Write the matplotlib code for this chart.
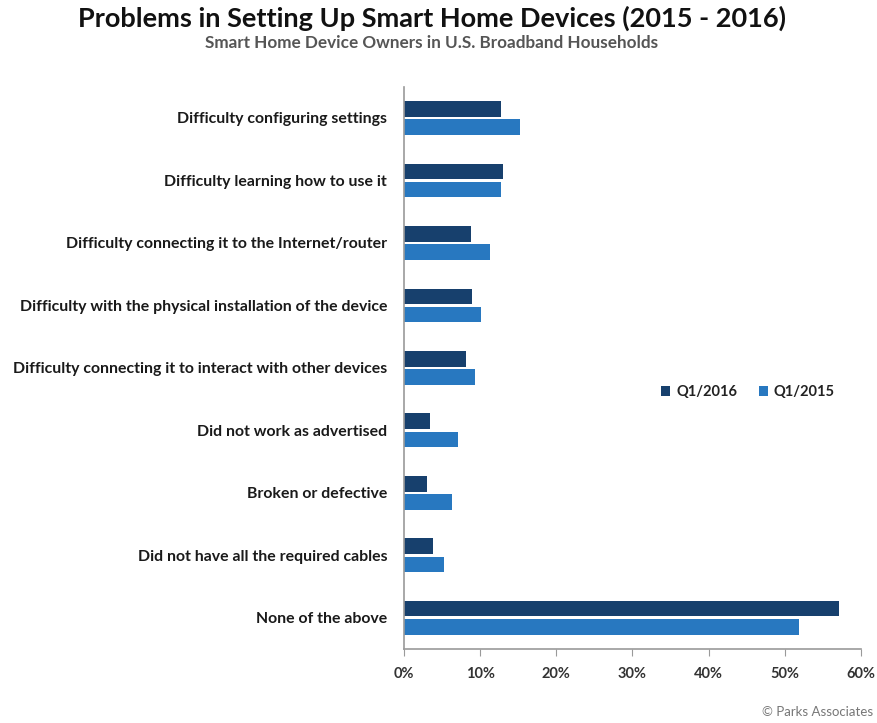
import matplotlib.pyplot as plt
import numpy as np

categories = [
    "Difficulty configuring settings",
    "Difficulty learning how to use it",
    "Difficulty connecting it to the Internet/router",
    "Difficulty with the physical installation of the device",
    "Difficulty connecting it to interact with other devices",
    "Did not work as advertised",
    "Broken or defective",
    "Did not have all the required cables",
    "None of the above",
]
q1_2016 = [12.8, 13.0, 8.8, 9.0, 8.1, 3.4, 3.1, 3.8, 57.1]
q1_2015 = [15.3, 12.8, 11.3, 10.1, 9.3, 7.1, 6.3, 5.3, 51.9]
series_names = ["Q1/2016", "Q1/2015"]
x_ticks = [0, 10, 20, 30, 40, 50, 60]

dark = "#17406d"
light = "#2878c0"
grey = "#9a9a9a"

plt.rcParams['font.family'] = ['Lato', 'DejaVu Sans']

fig = plt.figure(figsize=(8.78, 7.23), dpi=100)
ax = fig.add_axes([0.46, 0.1024, 0.5205, 0.7776])

y = np.arange(len(categories))
h = 0.25
off = 0.145
ax.barh(y - off, q1_2016, height=h, color=dark, label=series_names[0])
ax.barh(y + off, q1_2015, height=h, color=light, label=series_names[1])

ax.set_ylim(len(categories) - 0.5, -0.5)
ax.set_xlim(0, 60)
ax.set_yticks(y)
ax.set_yticklabels(categories, fontsize=11.4, fontweight='bold', color='#1a1a1a')
ax.set_xticks(x_ticks)
ax.set_xticklabels([f"{t}%" for t in x_ticks], fontsize=10.5, fontweight='bold', color='#333333')
ax.tick_params(axis='y', length=0, pad=12)
ax.tick_params(axis='x', length=5, color=grey, direction='out', pad=8)

for s in ['top', 'right']:
    ax.spines[s].set_visible(False)
for s in ['left', 'bottom']:
    ax.spines[s].set_color(grey)
    ax.spines[s].set_linewidth(1.2)

leg = ax.legend(loc='center left', bbox_to_anchor=(0.535, 0.457), ncol=2, frameon=False,
                handlelength=0.6, handleheight=0.6, handletextpad=0.4, columnspacing=1.5,
                prop={'size': 10.5, 'weight': 'bold'})
for t in leg.get_texts():
    t.set_color('#222222')

fig.text(0.492, 0.974, "Problems in Setting Up Smart Home Devices (2015 - 2016)",
         ha='center', va='center', fontsize=19.5, fontweight='bold', color='#111111')
fig.text(0.492, 0.94, "Smart Home Device Owners in U.S. Broadband Households",
         ha='center', va='center', fontsize=12.3, fontweight='bold', color='#555555')
fig.text(0.995, 0.015, "© Parks Associates", ha='right', va='center', fontsize=9.5, color='#777777')

fig.savefig("out.png", dpi=100)
